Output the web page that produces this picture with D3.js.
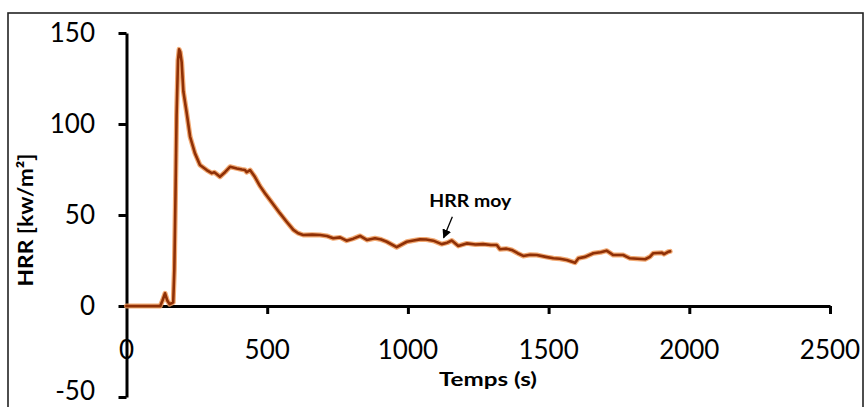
<!DOCTYPE html>
<html>
<head>
<meta charset="utf-8">
<script src="https://cdn.jsdelivr.net/npm/d3@7"></script>
<style>
  html, body { margin: 0; padding: 0; background: #fff; }
  svg { display: block; }
</style>
</head>
<body>
<svg id="chart" width="865" height="407"></svg>
<script>
// ---- data ----
const times = [
  0, 60, 120, 128, 137, 145, 153, 160, 166, 170,
  174, 178, 183, 187, 191, 196, 202, 214, 226, 243,
  261, 285, 303, 312, 320, 332, 350, 368, 392, 410,
  421, 427, 439, 456, 474, 492, 510, 545, 569, 593,
  610, 628, 660, 688, 712, 735, 759, 782, 806, 830,
  854, 883, 905, 925, 960, 996, 1020, 1043, 1065, 1090,
  1120, 1140, 1156, 1179, 1209, 1240, 1268, 1295, 1316, 1327,
  1350, 1369, 1390, 1410, 1435, 1458, 1490, 1517, 1540, 1564,
  1594, 1606, 1630, 1659, 1685, 1706, 1730, 1765, 1789, 1815,
  1843, 1860, 1872, 1902, 1910, 1925, 1932
];
const hrr = [
  0, 0, 0, 3, 7, 3, 1, 1.5, 2, 20,
  60, 105, 135, 141, 139.5, 134, 118, 106, 93, 84,
  77.5, 74.7, 73, 73.5, 72.5, 71, 73.5, 76.5, 75.6, 75,
  74.7, 73.5, 74.7, 71, 66, 62, 58.2, 51, 46.3, 41.8,
  40, 39, 39.2, 39, 38.5, 37.2, 37.7, 35.9, 37, 38.5,
  36.3, 37.2, 36.5, 35.3, 32.3, 35.3, 36, 36.6, 36.5, 35.9,
  34, 34.8, 36, 33, 34.4, 33.8, 34, 33.5, 33.5, 31.2,
  31.5, 30.8, 29, 27.5, 28.2, 28, 27, 26.2, 26, 25.3,
  23.8, 26.2, 27, 29, 29.5, 30.4, 28, 28, 26.2, 26,
  25.7, 27, 29, 29.3, 28.5, 29.8, 30
];
const xTicks = [0, 500, 1000, 1500, 2000, 2500];
const yTicks = [-50, 0, 50, 100, 150];
const xTitle = "Temps (s)";
const yTitle = "HRR [kw/m²]";
const annotationText = "HRR moy";
const annotationLabelAt = [1222, 54.5];
const annotationArrowFrom = [1158, 49];
const annotationArrowTo = [1127, 37.5];

// ---- drawing ----
const svg = d3.select("#chart");
const FONT = "Lato, 'Open Sans', sans-serif";

const x = d3.scaleLinear().domain([0, 2500]).range([126.5, 830]);
const y = d3.scaleLinear().domain([-50, 150]).range([397, 33]);

// outer frame
svg.append("rect")
  .attr("x", 8).attr("y", 13)
  .attr("width", 855).attr("height", 420)
  .attr("fill", "none").attr("stroke", "#222").attr("stroke-width", 1.6);

// y axis
const yAxis = d3.axisLeft(y).tickValues(yTicks).tickSize(8).tickSizeOuter(0).tickFormat("");
const gy = svg.append("g").attr("transform", `translate(${x(0)},0)`).call(yAxis);
gy.select(".domain").attr("stroke", "#000").attr("stroke-width", 3);
gy.selectAll(".tick line").attr("stroke", "#000").attr("stroke-width", 3);

// x axis at y=0
const xAxis = d3.axisBottom(x).tickValues(xTicks.filter(d => d !== 0)).tickSize(8).tickSizeOuter(0).tickFormat("");
const gx = svg.append("g").attr("transform", `translate(0,${y(0)})`).call(xAxis);
gx.select(".domain").attr("stroke", "#000").attr("stroke-width", 3);
gx.selectAll(".tick line").attr("stroke", "#000").attr("stroke-width", 3);

// y tick labels (lowest one nudged up so it stays inside the page)
svg.append("g").selectAll("text").data(yTicks).join("text")
  .attr("x", 95).attr("y", d => Math.min(y(d), 391))
  .attr("dy", "0.36em")
  .attr("text-anchor", "end")
  .attr("font-family", FONT).attr("font-size", 26)
  .attr("fill", "#000")
  .text(d => d);

// x tick labels (placed low, as in the reference)
svg.append("g").selectAll("text").data(xTicks).join("text")
  .attr("x", d => x(d)).attr("y", 359)
  .attr("text-anchor", "middle")
  .attr("font-family", FONT).attr("font-size", 26)
  .attr("fill", "#000")
  .text(d => d);

// axis titles
svg.append("text")
  .attr("x", 488).attr("y", 386)
  .attr("text-anchor", "middle")
  .attr("font-family", FONT).attr("font-weight", "bold").attr("font-size", 18)
  .attr("textLength", 98).attr("lengthAdjust", "spacingAndGlyphs")
  .text(xTitle);

svg.append("text")
  .attr("transform", "translate(33,220) rotate(-90)")
  .attr("text-anchor", "middle")
  .attr("font-family", FONT).attr("font-weight", "bold").attr("font-size", 20)
  .attr("textLength", 133).attr("lengthAdjust", "spacingAndGlyphs")
  .text(yTitle);

// data line
const pts = times.map((t, i) => [t, hrr[i]]);
const line = d3.line().x(d => x(d[0])).y(d => y(d[1]));
svg.append("path").datum(pts)
  .attr("d", line).attr("fill", "none")
  .attr("stroke", "#ee9a5a").attr("stroke-width", 5)
  .attr("stroke-linejoin", "round").attr("stroke-linecap", "round")
  .attr("opacity", 0.85);
svg.append("path").datum(pts)
  .attr("d", line).attr("fill", "none")
  .attr("stroke", "#8f3006").attr("stroke-width", 2.6)
  .attr("stroke-linejoin", "round").attr("stroke-linecap", "round");

// annotation
svg.append("defs").append("marker")
  .attr("id", "arrow").attr("viewBox", "0 0 10 10")
  .attr("refX", 9).attr("refY", 5)
  .attr("markerWidth", 7).attr("markerHeight", 7)
  .attr("orient", "auto")
  .append("path").attr("d", "M0,0 L10,5 L0,10 z").attr("fill", "#000");

svg.append("line")
  .attr("x1", x(annotationArrowFrom[0])).attr("y1", y(annotationArrowFrom[1]))
  .attr("x2", x(annotationArrowTo[0])).attr("y2", y(annotationArrowTo[1]))
  .attr("stroke", "#000").attr("stroke-width", 1.3)
  .attr("marker-end", "url(#arrow)");

svg.append("text")
  .attr("x", x(annotationLabelAt[0])).attr("y", y(annotationLabelAt[1]))
  .attr("text-anchor", "middle")
  .attr("font-family", FONT).attr("font-weight", "bold").attr("font-size", 16.5)
  .attr("textLength", 82).attr("lengthAdjust", "spacingAndGlyphs")
  .text(annotationText);
</script>
</body>
</html>
